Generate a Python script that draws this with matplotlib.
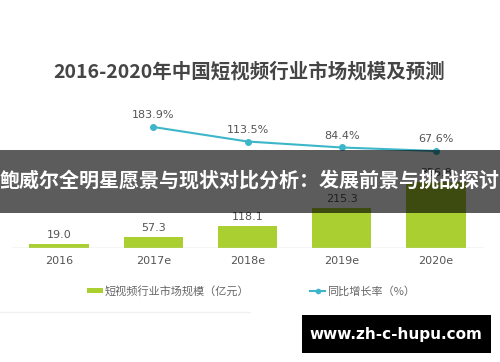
import matplotlib
matplotlib.use("Agg")
import matplotlib.pyplot as plt
from matplotlib.patches import Rectangle
from matplotlib.lines import Line2D
from matplotlib.patches import Patch

plt.rcParams['font.family'] = ['Noto Sans CJK SC', 'DejaVu Sans']

categories = ["2016", "2017e", "2018e", "2019e", "2020e"]
market_size = [19.0, 57.3, 118.1, 215.3, 356.8]
growth_cats = ["2017e", "2018e", "2019e", "2020e"]
growth_rate = [183.9, 113.5, 84.4, 67.6]

title = "2016-2020年中国短视频行业市场规模及预测"
bar_label = "短视频行业市场规模（亿元）"
line_label = "同比增长率（%）"
banner_text = "鲍威尔全明星愿景与现状对比分析：发展前景与挑战探讨"
watermark = "www.zh-c-hupu.com"

W, H = 500, 362
fig = plt.figure(figsize=(W / 100, H / 100), dpi=100)
fig.patch.set_facecolor("white")

# axes in pixel geometry
ax_bottom_px = 247.7
ax_top_px = 50.0
ax = fig.add_axes([0, (H - ax_bottom_px) / H, 1, (ax_bottom_px - ax_top_px) / H])
ax.set_facecolor("none")
for s in ax.spines.values():
    s.set_visible(False)

xs = list(range(len(categories)))
unit = 94.25
xmin = -59 / unit
ax.set_xlim(xmin, xmin + W / unit)
ax.set_ylim(0, (ax_bottom_px - ax_top_px) / 0.184)

bar_color = "#a9cf31"
ax.bar(xs, market_size, width=0.626, color=bar_color, zorder=2)
ax.hlines(0, -0.5, len(categories) - 0.5, color="#cfcfcf", lw=1.0, zorder=3)
for x, v in zip(xs, market_size):
    ax.annotate(f"{v:.1f}", (x, v), xytext=(0, 3), textcoords="offset points",
                ha="center", va="bottom", fontsize=8, color="#555555",
                family="DejaVu Sans")
ax.set_xticks(xs)
ax.set_xticklabels(categories, fontsize=8, color="#555555", family="DejaVu Sans")
ax.tick_params(axis="x", length=0, pad=6)
ax.set_yticks([])

# line axes
ax2 = ax.twinx()
for s in ax2.spines.values():
    s.set_visible(False)
ax2.set_yticks([])
k = 0.206
ymin = 183.9 - (ax_bottom_px - 127) / k
ax2.set_ylim(ymin, ymin + (ax_bottom_px - ax_top_px) / k)
gx = [categories.index(c) for c in growth_cats]
line_color = "#3db6c9"
ax2.plot(gx, growth_rate, color=line_color, lw=1.5, marker="o", ms=4, zorder=4)
for x, v in zip(gx, growth_rate):
    ax2.annotate(f"{v:.1f}%", (x, v), xytext=(0, 5), textcoords="offset points",
                 ha="center", va="bottom", fontsize=8, color="#555555",
                 family="DejaVu Sans")

# title
fig.text(249 / W, 1 - 72 / H, title, ha="center", va="center", fontsize=14,
         fontweight="bold", color="#454545")

# legend
handles = [Patch(facecolor=bar_color, edgecolor="none"),
           Line2D([0], [0], color=line_color, lw=1.5, marker="o", ms=3)]
leg = fig.legend(handles, [bar_label, line_label], loc="center",
                 bbox_to_anchor=(251 / W, 1 - 291 / H), ncol=2, frameon=False,
                 fontsize=8, handlelength=1.4, handleheight=0.4,
                 handletextpad=0.1, columnspacing=5.5)
for t in leg.get_texts():
    t.set_color("#666666")

# faint separator
fig.add_artist(Line2D([0, 250 / W], [1 - 312 / H, 1 - 312 / H],
                      transform=fig.transFigure, color="#f0f0f0", lw=1))

# banner overlay
fig.add_artist(Rectangle((0, 1 - 213 / H), 1, 63 / H, transform=fig.transFigure,
                         facecolor="black", alpha=0.64, edgecolor="none", zorder=10))
fig.text(250 / W, 1 - 180 / H, banner_text, ha="center", va="center",
         fontsize=14.4, fontweight="bold", color="white", zorder=11)

# watermark
fig.add_artist(Rectangle((302 / W, 1 - 353 / H), 189 / W, 38 / H,
                         transform=fig.transFigure, facecolor="black",
                         edgecolor="none", zorder=10))
fig.text(396 / W, 1 - 334 / H, watermark, ha="center", va="center",
         fontsize=11, fontweight="bold", color="white", zorder=11,
         family="DejaVu Sans")

fig.savefig("out.png", dpi=100, facecolor="white")
